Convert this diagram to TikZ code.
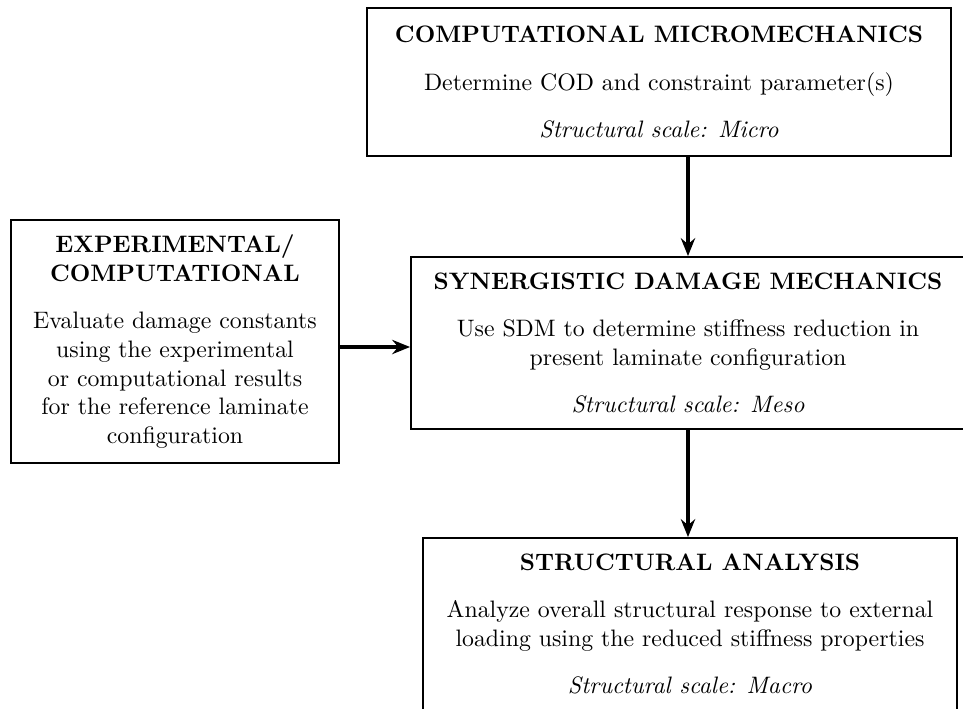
\documentclass[tikz,border=0pt]{standalone}
\usetikzlibrary{arrows.meta, calc}

\begin{document}
\begin{tikzpicture}[x=0.4202pt,y=-0.4202pt]
\def\pxu{0.4202pt}
\tikzset{
  stage/.style={draw=black, line width=0.8pt, align=center, inner sep=0pt},
  flow/.style={line width=1.6pt, -{Stealth[length=7.5pt,width=6pt,inset=2.5pt]}}
}
\useasboundingbox (0,0) rectangle (963,708);

% Stage boxes
\node[stage, minimum width={584*\pxu}, minimum height={148*\pxu}] (micro) at (659,82)
  {\textbf{COMPUTATIONAL MICROMECHANICS}\\[8pt]
   Determine COD and constraint parameter(s)\\[8pt]
   \textit{Structural scale: Micro}};
\node[stage, minimum width={554*\pxu}, minimum height={172*\pxu}] (sdm) at (688,343)
  {\textbf{SYNERGISTIC DAMAGE MECHANICS}\\[8pt]
   Use SDM to determine stiffness reduction in\\
   present laminate configuration\\[8pt]
   \textit{Structural scale: Meso}};
\node[stage, minimum width={328*\pxu}, minimum height={243*\pxu}] (expt) at (175,341.5)
  {\textbf{EXPERIMENTAL/}\\
   \textbf{COMPUTATIONAL}\\[8pt]
   Evaluate damage constants\\
   using the experimental\\
   or computational results\\
   for the reference laminate\\
   configuration};
\node[stage, minimum width={534*\pxu}, minimum height={172*\pxu}] (macro) at (690,624)
  {\textbf{STRUCTURAL ANALYSIS}\\[8pt]
   Analyze overall structural response to external\\
   loading using the reduced stiffness properties\\[8pt]
   \textit{Structural scale: Macro}};

% Connectors
\coordinate (mid) at (0,347);
\draw[flow] (micro.south -| sdm.north) -- (sdm.north);
\draw[flow] (sdm.south) -- (sdm.south |- macro.north);
\draw[flow] (expt.east |- mid) -- (sdm.west |- mid);
\end{tikzpicture}
\end{document}
